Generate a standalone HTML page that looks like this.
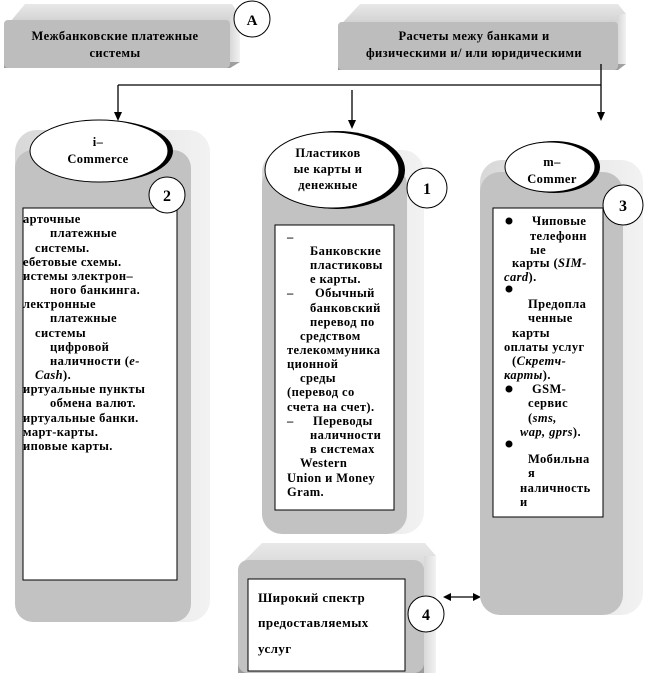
<!DOCTYPE html>
<html><head><meta charset="utf-8"><style>
html,body{margin:0;padding:0;background:#fff;width:645px;height:673px;overflow:hidden}
svg{display:block}
text{font-family:"Liberation Serif",serif;font-weight:bold;fill:#000}
.s{font-size:12.5px;letter-spacing:0.4px}
</style></head><body>
<svg width="645" height="673" viewBox="0 0 645 673" xmlns="http://www.w3.org/2000/svg">
<defs>
<linearGradient id="top" x1="0" y1="0" x2="0" y2="1"><stop offset="0" stop-color="#e8e8e8"/><stop offset="1" stop-color="#9a9a9a"/></linearGradient>
<linearGradient id="side" x1="0" y1="0" x2="1" y2="0"><stop offset="0" stop-color="#d8d8d8"/><stop offset="1" stop-color="#f2f2f2"/></linearGradient>
</defs>

<path d="M10 22 L25 4 L232 4 L240 16 L240 62 L230 68 L4 68 L4 30 Z" fill="url(#top)"/>
<rect x="4" y="20" width="226" height="48" rx="4" fill="#bdbdbd"/>
<rect x="230" y="16" width="10" height="46" fill="url(#side)"/>
<text x="115" y="40" text-anchor="middle" class="s">Межбанковские платежные</text>
<text x="115" y="57" text-anchor="middle" class="s">системы</text>
<circle cx="252" cy="19" r="18" fill="#fff" stroke="#000"/>
<text x="252" y="25" text-anchor="middle" font-size="15">A</text>

<path d="M345 20 L360 4 L618 4 L626 14 L626 64 L618 70 L338 70 L338 28 Z" fill="url(#top)"/>
<rect x="338" y="22" width="280" height="48" rx="4" fill="#bdbdbd"/>
<rect x="618" y="14" width="8" height="50" fill="url(#side)"/>
<text x="474" y="40" text-anchor="middle" class="s">Расчеты межу банками и</text>
<text x="474" y="57" text-anchor="middle" class="s">физическими и/ или юридическими</text>

<g stroke="#000" stroke-width="1.3" fill="none">
<line x1="118" y1="85" x2="601" y2="85"/>
<line x1="118" y1="85" x2="118" y2="114"/>
<line x1="352" y1="90" x2="352" y2="122"/>
<line x1="601" y1="64" x2="601" y2="114"/>
<line x1="448" y1="597" x2="476" y2="597"/>
</g>
<g fill="#000">
<polygon points="114,112 122,112 118,121"/>
<polygon points="348,120 356,120 352,129"/>
<polygon points="597,112 605,112 601,121"/>
<polygon points="443,597 451,593 451,601"/>
<polygon points="481,597 473,593 473,601"/>
</g>

<rect x="15" y="130" width="195" height="492" rx="22" fill="url(#side)"/>
<rect x="15" y="150" width="176" height="472" rx="18" fill="#c2c2c2"/>
<rect x="23" y="208" width="154" height="372" fill="#fff" stroke="#000"/>
<ellipse cx="103" cy="151" rx="70" ry="31" fill="#000"/>
<ellipse cx="99" cy="151" rx="69" ry="31" fill="#fff" stroke="#000"/>
<text x="98" y="146" text-anchor="middle" class="s">i–</text>
<text x="98" y="163" text-anchor="middle" class="s">Commerce</text>
<circle cx="167" cy="195" r="18" fill="#fff" stroke="#000"/>
<text x="167" y="201" text-anchor="middle" font-size="16">2</text>
<g class="s">
<text x="23" y="223">арточные</text>
<text x="50" y="237">платежные</text>
<text x="35" y="252">системы.</text>
<text x="23" y="266">ебетовые схемы.</text>
<text x="23" y="280">истемы электрон–</text>
<text x="50" y="294">ного банкинга.</text>
<text x="23" y="308">лектронные</text>
<text x="50" y="322">платежные</text>
<text x="35" y="337">системы</text>
<text x="50" y="351">цифровой</text>
<text x="50" y="365">наличности (<tspan font-style="italic">e-</tspan></text>
<text x="35" y="379"><tspan font-style="italic">Cash</tspan>).</text>
<text x="23" y="393">иртуальные пункты</text>
<text x="50" y="407">обмена валют.</text>
<text x="23" y="422">иртуальные банки.</text>
<text x="23" y="436">март-карты.</text>
<text x="23" y="450">иповые карты.</text>
</g>

<rect x="262" y="150" width="162" height="384" rx="22" fill="url(#side)"/>
<rect x="262" y="165" width="145" height="369" rx="20" fill="#c2c2c2"/>
<rect x="275" y="225" width="119" height="285" fill="#fff" stroke="#000"/>
<ellipse cx="337" cy="170" rx="68" ry="39" fill="#000"/>
<ellipse cx="332" cy="170" rx="67" ry="38" fill="#fff" stroke="#000"/>
<text x="328" y="157" text-anchor="middle" class="s">Пластиков</text>
<text x="328" y="173" text-anchor="middle" class="s">ые карты и</text>
<text x="328" y="189" text-anchor="middle" class="s">денежные</text>
<circle cx="427" cy="188" r="20" fill="#fff" stroke="#000"/>
<text x="427" y="194" text-anchor="middle" font-size="16">1</text>
<g class="s">
<text x="287" y="241">–</text>
<text x="310" y="255">Банковские</text>
<text x="310" y="269">пластиковы</text>
<text x="310" y="283">е карты.</text>
<text x="287" y="297">–</text><text x="315" y="297">Обычный</text>
<text x="310" y="312">банковский</text>
<text x="310" y="326">перевод по</text>
<text x="300" y="340">средством</text>
<text x="287" y="354">телекоммуника</text>
<text x="287" y="368">ционной</text>
<text x="300" y="382">среды</text>
<text x="287" y="396">(перевод со</text>
<text x="287" y="411">счета на счет).</text>
<text x="287" y="425">–</text><text x="313" y="425">Переводы</text>
<text x="310" y="439">наличности</text>
<text x="310" y="453">в системах</text>
<text x="300" y="467">Western</text>
<text x="287" y="482">Union и Money</text>
<text x="287" y="496">Gram.</text>
</g>

<rect x="480" y="160" width="163" height="455" rx="22" fill="url(#side)"/>
<rect x="480" y="172" width="143" height="443" rx="20" fill="#c2c2c2"/>
<rect x="493" y="208" width="110" height="309" fill="#fff" stroke="#000"/>
<ellipse cx="554" cy="167" rx="46" ry="26" fill="#000"/>
<ellipse cx="550" cy="167" rx="45" ry="25" fill="#fff" stroke="#000"/>
<text x="552" y="166" text-anchor="middle" class="s">m–</text>
<text x="552" y="183" text-anchor="middle" class="s">Commer</text>
<circle cx="623" cy="205" r="20" fill="#fff" stroke="#000"/>
<text x="623" y="211" text-anchor="middle" font-size="16">3</text>
<g fill="#000"><circle cx="509" cy="221" r="3.5"/><circle cx="509" cy="289" r="3.5"/><circle cx="509" cy="389" r="3.5"/><circle cx="509" cy="444" r="3.5"/></g>
<g class="s">
<text x="532" y="225">Чиповые</text>
<text x="530" y="240">телефонн</text>
<text x="530" y="254">ые</text>
<text x="512" y="267">карты (<tspan font-style="italic">SIM-</tspan></text>
<text x="504" y="281"><tspan font-style="italic">card</tspan>).</text>
<text x="528" y="308">Предопла</text>
<text x="528" y="322">ченные</text>
<text x="512" y="337">карты</text>
<text x="504" y="351">оплаты услуг</text>
<text x="512" y="365">(<tspan font-style="italic">Скретч-</tspan></text>
<text x="504" y="379"><tspan font-style="italic">карты</tspan>).</text>
<text x="532" y="393">GSM-</text>
<text x="528" y="407">сервис</text>
<text x="528" y="422">(<tspan font-style="italic">sms,</tspan></text>
<text x="520" y="436"><tspan font-style="italic">wap, gprs</tspan>).</text>
<text x="528" y="463">Мобильна</text>
<text x="528" y="477">я</text>
<text x="520" y="492">наличность</text>
<text x="520" y="506">и</text>
</g>

<path d="M245 560 L262 543 L425 543 L436 556 L436 673 L238 673 L238 575 Z" fill="url(#top)"/>
<rect x="238" y="560" width="186" height="113" rx="10" fill="#c2c2c2"/>
<rect x="424" y="556" width="12" height="117" fill="url(#side)"/>
<rect x="248" y="579" width="157" height="92" fill="#fff" stroke="#000"/>
<text x="258" y="602" font-size="13" letter-spacing="0.4">Широкий спектр</text>
<text x="258" y="627" font-size="13" letter-spacing="0.4">предоставляемых</text>
<text x="258" y="653" font-size="13" letter-spacing="0.4">услуг</text>
<circle cx="426" cy="614" r="18" fill="#fff" stroke="#000"/>
<text x="426" y="620" text-anchor="middle" font-size="16">4</text>
</svg>
</body></html>
